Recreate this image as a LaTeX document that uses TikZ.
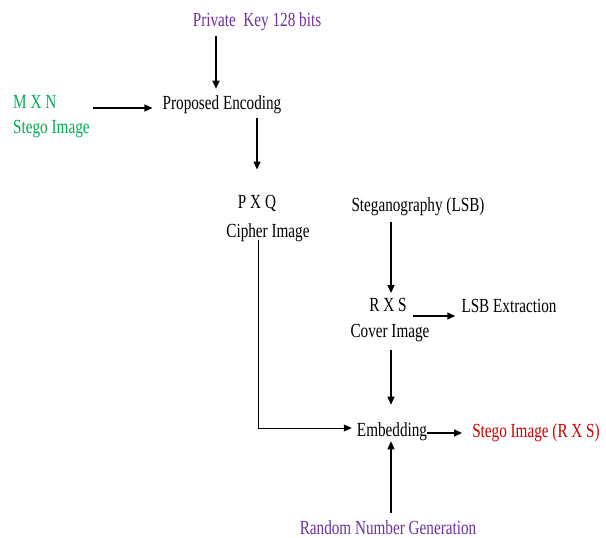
\documentclass[tikz,border=0pt]{standalone}
\usepackage{fontspec}
\setmainfont[FakeStretch=0.76]{Liberation Serif}
\usetikzlibrary{arrows.meta}
\definecolor{kpurple}{HTML}{7030A0}
\definecolor{kgreen}{HTML}{00B050}
\definecolor{kred}{HTML}{CC0000}
\begin{document}
\begin{tikzpicture}[x=1pt,y=-1pt,
  lbl/.style={inner sep=0pt,font=\fontsize{20}{24}\selectfont},
  arr/.style={line width=1.4pt,-{Triangle[length=8pt,width=7pt]}},
  thinarr/.style={line width=1pt,-{Triangle[length=8pt,width=7pt]}}]
\useasboundingbox[fill=white] (0,0) rectangle (606,538);
\node[lbl,text=kpurple] (key) at (257,22) {Private\ \ Key 128 bits};
\node[lbl] (enc) at (222,105) {Proposed Encoding};
\node[lbl,text=kgreen,anchor=west] (mxn) at (13,102) {M X N};
\node[lbl,text=kgreen,anchor=west] (stin) at (13,129) {Stego Image};
\node[lbl] (pxq) at (257,203) {P X Q};
\node[lbl] (cipher) at (268,233) {Cipher Image};
\node[lbl] (steg) at (418,207) {Steganography (LSB)};
\node[lbl] (rxs) at (388,305) {R X S};
\node[lbl] (cover) at (390,333) {Cover Image};
\node[lbl] (lsb) at (509,306) {LSB Extraction};
\node[lbl] (emb) at (392,432) {Embedding};
\node[lbl,text=kred] (out) at (536,433) {Stego Image (R X S)};
\node[lbl,text=kpurple] (rng) at (388,528) {Random Number Generation};

\draw[arr,shorten <=5pt,shorten >=7pt] ([xshift=-41pt]key.south) -- ([xshift=-6pt]enc.north);
\draw[arr,shorten <=3pt,shorten >=10pt] ([yshift=-6pt]mxn.east -| stin.east) -- ([yshift=-3pt]enc.west);
\draw[arr,shorten <=4pt,shorten >=25pt] ([xshift=35pt]enc.south) -- (pxq.north);
\draw[thinarr,shorten >=5pt] ([xshift=-10pt,yshift=2pt]cipher.south) |- ([yshift=4pt]emb.west);
\draw[arr,shorten <=6pt,shorten >=5pt] ([xshift=-27pt]steg.south) -- ([xshift=3pt]rxs.north);
\draw[arr,shorten <=6pt,shorten >=6pt] ([yshift=-11pt]rxs.east) -- ([yshift=-10pt]lsb.west);
\draw[arr,shorten <=8pt,shorten >=18pt] ([xshift=1pt]cover.south) -- ([xshift=-1pt]emb.north);
\draw[arr,shorten >=10pt] ([yshift=-1pt]emb.east) -- (out.west);
\draw[arr,shorten <=8pt] ([xshift=3pt]rng.north) -- ([xshift=-1pt]emb.south);
\end{tikzpicture}
\end{document}
